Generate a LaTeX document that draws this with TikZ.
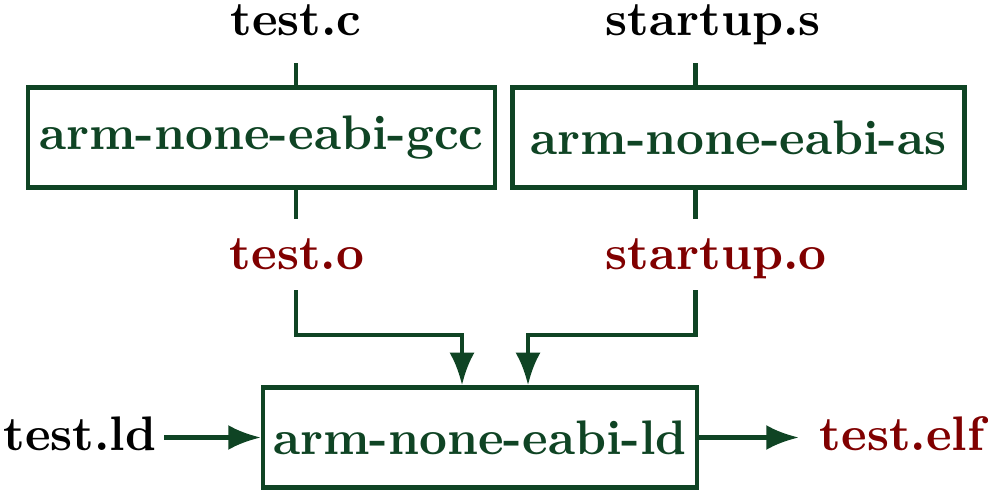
\documentclass[tikz,border=0pt]{standalone}
\usepackage{tikz}
\usetikzlibrary{arrows.meta}
\definecolor{boxgreen}{RGB}{15,68,36}
\definecolor{objred}{RGB}{128,0,0}
\tikzstyle{tool} = [rectangle, minimum height=20pt, inner sep=0pt, draw=boxgreen, line width=0.9pt, text=boxgreen, font=\fontsize{9.7}{12}\selectfont\bfseries]
\tikzstyle{srcfile} = [inner sep=0pt, text height=1.6ex, text depth=0.4ex, font=\fontsize{9.7}{12}\selectfont\bfseries]
\tikzstyle{objfile} = [srcfile, text=objred]
\tikzstyle{wire} = [draw=boxgreen, line width=0.9pt]
\tikzstyle{arrow} = [wire, -{Latex[length=6.5pt,width=5pt]}]

\begin{document}
\begin{tikzpicture}[node distance=60pt]
                % size of the picture
                \useasboundingbox (0,0) rectangle (197.6pt,-98.4pt);

% ---------------------------------------------
% Tools
% ---------------------------------------------
                \node (gcc) [tool, minimum width=93.4pt] at (52.3pt,-27.5pt) {arm-none-eabi-gcc};

                \node (as) [tool, minimum width=90.4pt, right of = gcc, xshift=35.4pt] {arm-none-eabi-as};

                \node (ld) [tool, minimum width=86.8pt, below of = gcc, xshift=43.7pt] {arm-none-eabi-ld};

% ---------------------------------------------
% Files
% ---------------------------------------------
                \node (testc) [srcfile, above of = gcc, xshift=6.9pt, yshift=-37pt] {test.c};
                \node (startups) [srcfile, above of = as, xshift=-5.1pt, yshift=-37pt] {startup.s};

                \node (testo) [objfile, below of = gcc, xshift=7.1pt, yshift=36.2pt] {test.o};
                \node (startupo) [objfile, below of = as, xshift=-4.5pt, yshift=36.2pt] {startup.o};

                \node (testld) [srcfile, left of = ld, xshift=-20pt] {test.ld};
                \node (testelf) [objfile, right of = ld, xshift=24.4pt] {test.elf};

                % connector points on the boxes
                \coordinate (gcc_in) at ([xshift=6.9pt]gcc.north);
                \coordinate (gcc_out) at ([xshift=6.9pt]gcc.south);
                \coordinate (as_in) at ([xshift=-8.6pt]as.north);
                \coordinate (as_out) at ([xshift=-8.6pt]as.south);
                \coordinate (ld_in1) at ([xshift=-3.6pt]ld.north);
                \coordinate (ld_in2) at ([xshift=9.6pt]ld.north);

% ---------------------------------------------
% All arrows
% ---------------------------------------------
                \draw [wire, shorten <=3.6pt] (testc.south -| gcc_in) -- (gcc_in);
                \draw [wire, shorten <=3.6pt] (startups.south -| as_in) -- (as_in);
                \draw [wire, shorten >=2.9pt] (gcc_out) -- (testo.north -| gcc_out);
                \draw [wire, shorten >=2.9pt] (as_out) -- (startupo.north -| as_out);

                \draw [arrow, shorten <=2.2pt] (testo.south -| gcc_out) |- ([yshift=10pt]ld_in1) -- (ld_in1);
                \draw [arrow, shorten <=2.2pt] (startupo.south -| as_out) |- ([yshift=10pt]ld_in2) -- (ld_in2);

                \draw [arrow, shorten <=1.4pt] (testld) -- (ld);
                \draw [arrow, shorten >=4pt] (ld) -- (testelf);

            \end{tikzpicture}
\end{document}
